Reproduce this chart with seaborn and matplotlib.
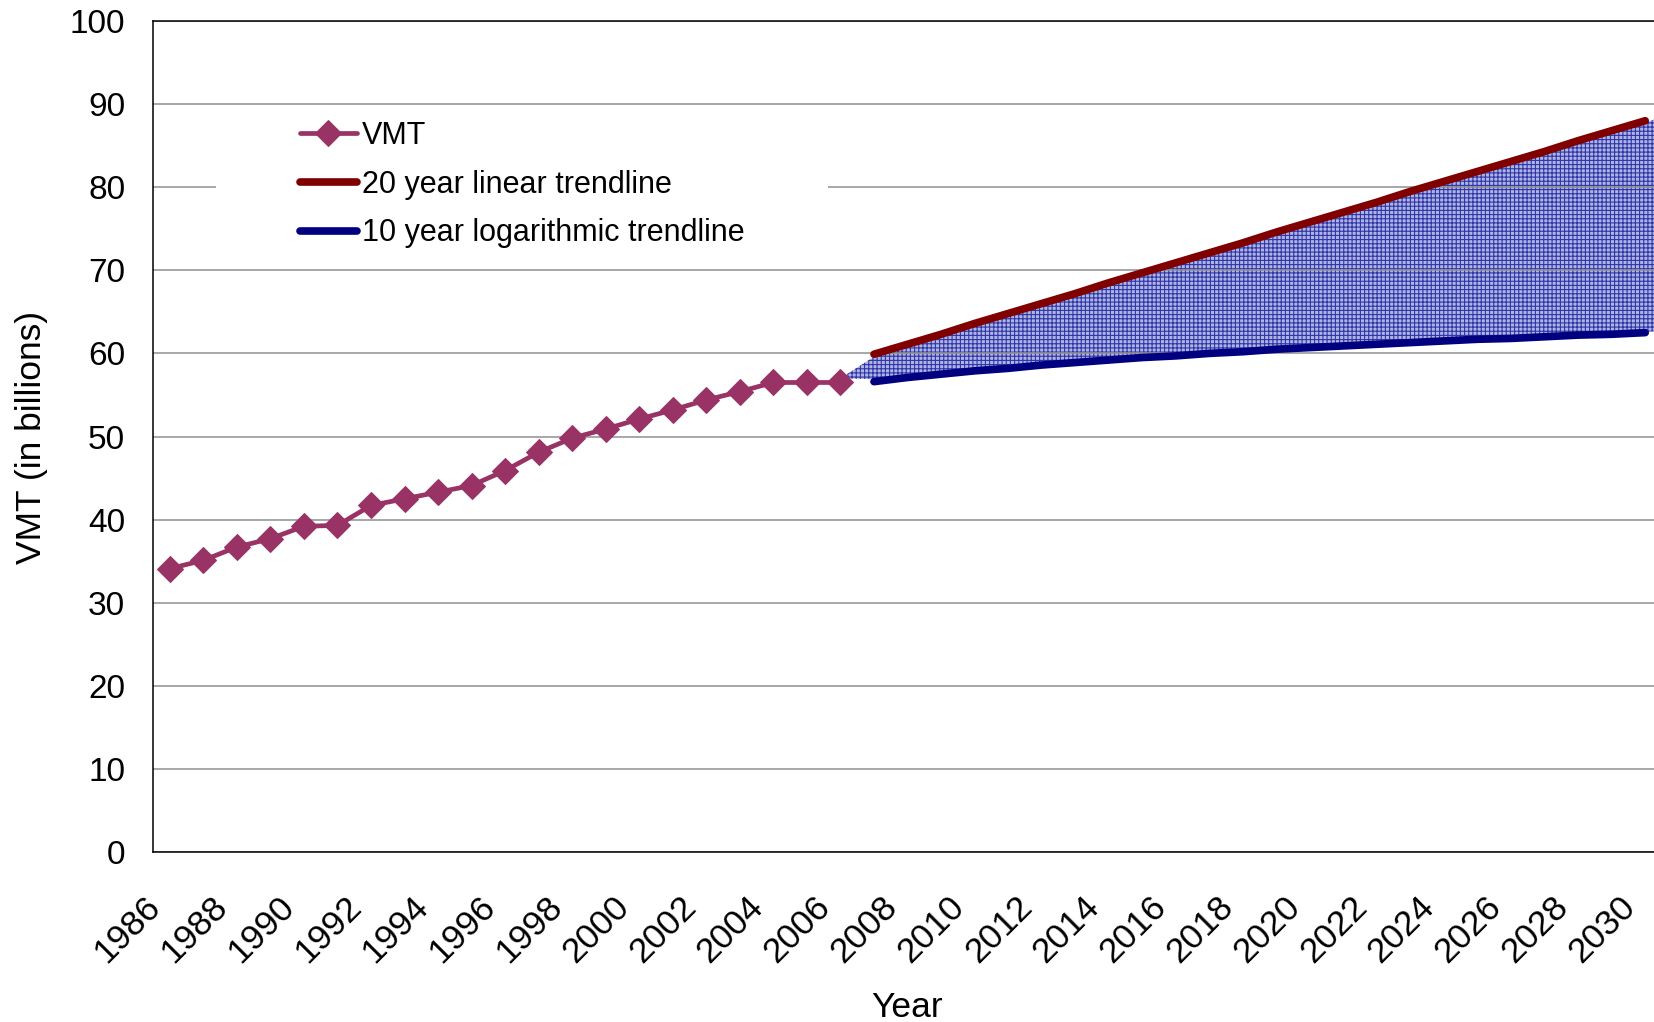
import numpy as np
import seaborn as sns
import matplotlib
matplotlib.use("Agg")
import matplotlib.pyplot as plt
import matplotlib.transforms as mtransforms
from matplotlib.patches import Rectangle

# category axis: one slot per year
years = list(range(1986, 2031))

# observed VMT (billions)
vmt_years = list(range(1986, 2007))
vmt = [34.1, 35.1, 36.7, 37.7, 39.2, 39.3, 41.7, 42.5, 43.3, 44.1, 45.9,
       48.1, 49.8, 50.9, 52.1, 53.2, 54.4, 55.4, 56.5, 56.5, 56.5]

# trendlines
trend_years = list(range(2007, 2031))
linear_trend = [59.9, 61.1, 62.3, 63.6, 64.8, 66.0, 67.2, 68.5, 69.7, 70.9, 72.1, 73.3,
                74.6, 75.8, 77.0, 78.2, 79.5, 80.7, 81.9, 83.1, 84.3, 85.6, 86.8, 88.0]
log_trend = [56.6, 57.1, 57.5, 57.9, 58.2, 58.6, 58.9, 59.2, 59.5, 59.7, 60.0, 60.2,
             60.5, 60.7, 60.9, 61.1, 61.3, 61.5, 61.7, 61.8, 62.0, 62.2, 62.3, 62.5]

# shaded band between the two projections
band_years = list(range(2006, 2032))
band_upper = [57.0, 59.6, 60.9, 62.1, 63.4, 64.6, 65.8, 67.0, 68.3, 69.5, 70.7, 71.9, 73.1,
              74.4, 75.6, 76.8, 78.0, 79.3, 80.5, 81.7, 82.9, 84.1, 85.4, 86.6, 87.8, 89.1]
band_lower = [57.0, 56.9, 57.3, 57.7, 58.1, 58.4, 58.7, 59.0, 59.3, 59.6, 59.8, 60.1, 60.3,
              60.6, 60.8, 61.0, 61.2, 61.4, 61.6, 61.8, 61.9, 62.1, 62.3, 62.4, 62.6, 62.8]

labels = ["VMT", "20 year linear trendline", "10 year logarithmic trendline"]

sns.set_style("white")
plt.rcParams["font.family"] = ["Liberation Sans", "DejaVu Sans"]
plt.rcParams["text.color"] = "black"
plt.rcParams["xtick.color"] = "black"
plt.rcParams["ytick.color"] = "black"
plt.rcParams["hatch.linewidth"] = 0.8

W, H = 1654, 1022
fig = plt.figure(figsize=(W / 100, H / 100), dpi=100)
ax = fig.add_axes([153 / W, 1 - 852 / H, 1509 / W, 831 / H])

idx = lambda ys: [y - years[0] for y in ys]

ax.fill_between(idx(band_years), band_lower, band_upper, facecolor="#b0b4e3",
                edgecolor="#2f36a8", hatch="++++", linewidth=0, zorder=0.3)

sns.lineplot(x=idx(vmt_years), y=vmt, color="#993366", lw=3.4, marker="D",
             markersize=13.5, markeredgecolor="#993366", ax=ax, label=labels[0], zorder=4)
sns.lineplot(x=idx(trend_years), y=linear_trend, color="#800000", lw=5.5,
             solid_capstyle="round", ax=ax, label=labels[1], zorder=3)
sns.lineplot(x=idx(trend_years), y=log_trend, color="#000080", lw=5.5,
             solid_capstyle="round", ax=ax, label=labels[2], zorder=3)

ax.set_xlim(-0.5, len(years) - 0.5)
ax.set_ylim(0, 100)
ax.set_yticks(range(0, 101, 10))
ax.yaxis.grid(True, color="#8f8f8f", lw=1.1)
ax.set_axisbelow(True)

# category boundaries carry the tick marks, every 2nd year carries a label
ax.set_xticks(np.arange(-0.5, len(years), 1), minor=True)
ax.set_xticks(idx(years[::2]))
ax.set_xticklabels([str(y) for y in years[::2]])
ax.tick_params(axis="x", which="minor", length=7, width=1, color="#555555", direction="out")
ax.tick_params(axis="x", which="major", length=0, pad=36, labelsize=25.5)
ax.tick_params(axis="y", length=7, width=1, color="#555555", direction="out", pad=13, labelsize=24)
shift = mtransforms.ScaledTranslation(-0.15, 0, fig.dpi_scale_trans)
for t in ax.get_xticklabels():
    t.set_rotation(45)
    t.set_ha("right")
    t.set_va("center")
    t.set_rotation_mode("anchor")
    t.set_transform(t.get_transform() + shift)

for s in ["left", "bottom", "top"]:
    ax.spines[s].set_color("black")
    ax.spines[s].set_linewidth(1.1)
ax.spines["right"].set_visible(False)

ax.set_xlabel("")
ax.set_ylabel("")
fig.text(32 / W, 1 - 437 / H, "VMT (in billions)", rotation=90, ha="center", va="center", fontsize=25.5)
fig.text(907 / W, 1 - 1007 / H, "Year", ha="center", va="center", fontsize=25.5)

# white legend area
ax.add_patch(Rectangle((0.0417, 0.71), 0.4056, 0.185, transform=ax.transAxes,
                       facecolor="white", edgecolor="none", zorder=1))
ax.legend(loc="upper left", bbox_to_anchor=(300 / W, 1 - 121 / H), bbox_transform=fig.transFigure,
          frameon=False, fontsize=22, borderpad=0, borderaxespad=0, handlelength=1.86,
          handletextpad=0.16, labelspacing=0.61, numpoints=1)

fig.savefig("out.png", dpi=100)
